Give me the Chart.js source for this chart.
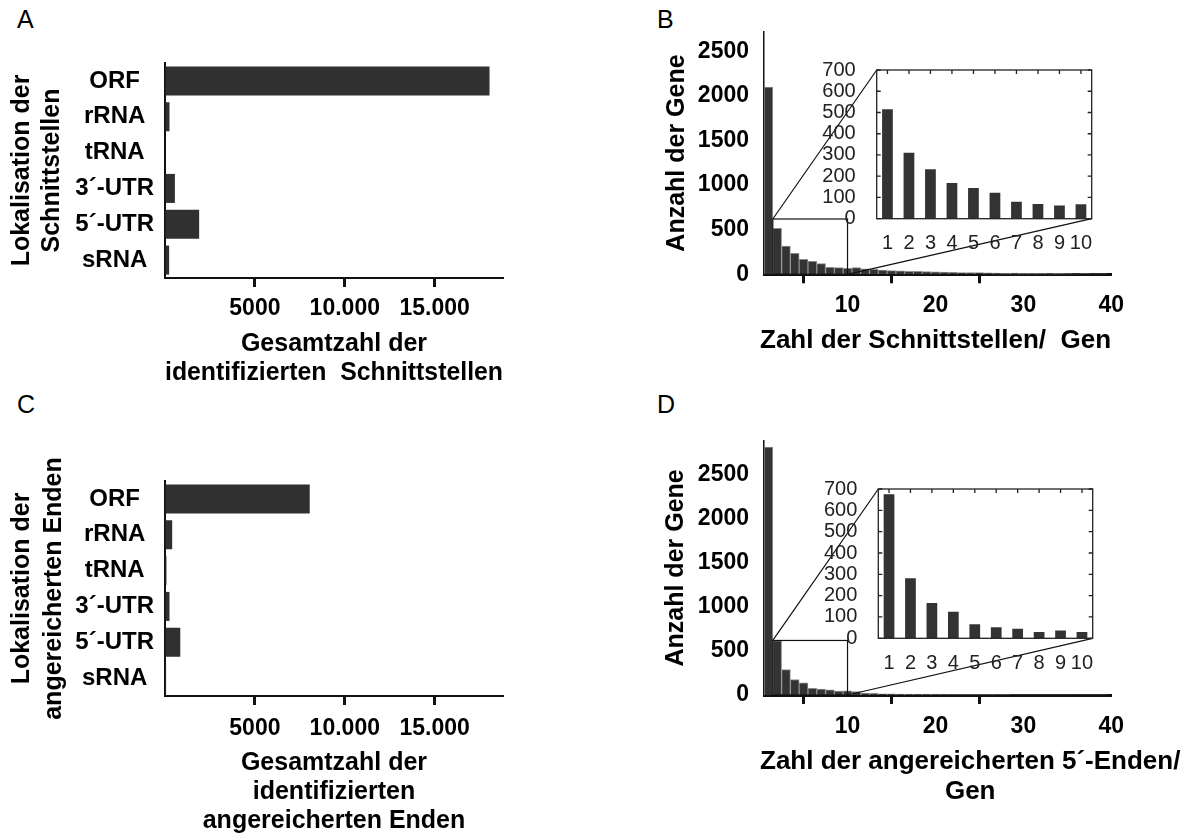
<!DOCTYPE html>
<html>
<head>
<meta charset="utf-8">
<title>Schnittstellen und angereicherte Enden</title>
<script src="https://cdn.jsdelivr.net/npm/chart.js@4.4.1/dist/chart.umd.min.js"></script>
<style>
  body { margin: 0; background: #fff; width: 1186px; height: 839px; position: relative; overflow: hidden; font-family: 'Liberation Sans', Arial, sans-serif; }
  canvas, .tag { position: absolute; }
  .tag { font-size: 25px; line-height: 1; color: #000; }
</style>
</head>
<body>
<div class="tag" style="left:17px;top:7px">A</div>
<div class="tag" style="left:657px;top:7px">B</div>
<div class="tag" style="left:17px;top:392px">C</div>
<div class="tag" style="left:657px;top:392px">D</div>

<canvas id="totalsSites" width="520" height="347" style="left:0;top:40px"></canvas>
<canvas id="totalsEnds" width="520" height="380" style="left:0;top:455px"></canvas>
<canvas id="countsSites" width="586" height="346" style="left:600px;top:10px"></canvas>
<canvas id="countsEnds" width="586" height="387" style="left:600px;top:420px"></canvas>
<canvas id="zoomSites" width="290" height="215" style="left:820px;top:45px"></canvas>
<canvas id="zoomEnds" width="290" height="215" style="left:820px;top:464px"></canvas>

<script>
// where the sites / enriched ends fall (panels A and C)
const regions = ['ORF', 'rRNA', 'tRNA', '3´-UTR', '5´-UTR', 'sRNA'];
const sitesTotal = [18050, 250, 30, 550, 1900, 230];
const endsTotal = [8050, 400, 80, 250, 850, 60];
const totalTicks = [0, 5000, 10000, 15000];

// genes per number of sites / ends (panels B and D)
const perGene = Array.from({ length: 39 }, (_, i) => i + 1);
const genesBySites = [2100, 515, 316, 235, 168, 145, 119, 78, 74, 67,
  75, 60, 55, 48, 42, 40, 34, 32, 30, 28,
  26, 22, 20, 18, 20, 16, 14, 12, 14, 12,
  10, 10, 8, 10, 8, 6, 7, 5, 5];
const genesByEnds = [2820, 620, 290, 176, 138, 75, 67, 60, 45, 48,
  40, 22, 18, 14, 12, 10, 9, 8, 8, 7,
  6, 6, 5, 5, 5, 4, 4, 4, 3, 3,
  3, 3, 2, 2, 2, 2, 2, 2, 2];
const geneTicks = [0, 500, 1000, 1500, 2000, 2500];
const countTicks = [10, 20, 30, 40];

// enlarged first ten classes
const zoomLabels = ['1', '2', '3', '4', '5', '6', '7', '8', '9', '10'];
const zoomSites = [515, 311, 233, 168, 144, 122, 80, 69, 62, 68];
const zoomEnds = [675, 281, 165, 125, 66, 52, 45, 30, 36, 30];
const zoomTicks = [0, 100, 200, 300, 400, 500, 600, 700];
// region of the main plot that the inset enlarges
const zoomFrom = 1.5, zoomTo = 10, zoomTop = 620;

Chart.defaults.font.family = "'Liberation Sans', Arial, Helvetica, sans-serif";
Chart.defaults.color = '#000';

const ink = '#111';
const clear = 'rgba(0,0,0,0)';
const bold = size => ({ size: size, weight: 'bold' });
const fixedWidth = w => s => { s.width = w; };
const fixedHeight = h => s => { s.height = h; };
const useTicks = list => s => { s.ticks = list.map(v => ({ value: v })); };
const deNum = v => v >= 10000 ? String(v).replace(/\B(?=(\d{3})+(?!\d))/g, '.') : String(v);

const base = {
  responsive: false,
  devicePixelRatio: 1,
  animation: false,
  events: [],
  plugins: { legend: { display: false }, tooltip: { enabled: false } }
};

function totalsChart(id, values, yTitle, xTitle, pad, yWidth, xHeight, yTitleTop, yTitleLH, tickPad) {
  return new Chart(document.getElementById(id), {
    type: 'bar',
    data: {
      labels: regions,
      datasets: [{ data: values, backgroundColor: '#303030', barPercentage: 0.9, categoryPercentage: 0.9 }]
    },
    options: Object.assign({}, base, {
      indexAxis: 'y',
      layout: { padding: pad },
      scales: {
        x: {
          type: 'linear', min: 0, max: 18800, offset: false,
          afterBuildTicks: useTicks(totalTicks),
          afterFit: fixedHeight(xHeight),
          border: { color: ink, width: 2 },
          grid: {
            drawOnChartArea: false, tickLength: 9, tickWidth: 3,
            tickColor: c => (c.tick && c.tick.value === 0) ? clear : ink
          },
          ticks: { font: bold(23), padding: tickPad, maxRotation: 0, callback: v => v === 0 ? '' : deNum(v) },
          title: { display: true, text: xTitle, font: { size: 25, weight: 'bold', lineHeight: 1.15 }, padding: 0 }
        },
        y: {
          afterFit: fixedWidth(yWidth),
          border: { color: ink, width: 2 },
          grid: { display: false },
          ticks: { font: bold(24), padding: 3, crossAlign: 'center' },
          title: { display: true, text: yTitle, font: { size: 25, weight: 'bold', lineHeight: yTitleLH }, padding: { top: yTitleTop, bottom: 0 } }
        }
      }
    })
  });
}

// frame with inward ticks round the inset
const insetFrame = {
  id: 'insetFrame',
  afterDraw(chart) {
    const { ctx, chartArea: a, scales: { x, y } } = chart;
    ctx.save();
    ctx.strokeStyle = '#222';
    ctx.lineWidth = 1.3;
    ctx.strokeRect(a.left, a.top, a.right - a.left, a.bottom - a.top);
    ctx.beginPath();
    x.ticks.forEach((t, i) => {
      const px = x.getPixelForTick(i);
      ctx.moveTo(px, a.top); ctx.lineTo(px, a.top + 4);
    });
    y.ticks.forEach((t, i) => {
      const py = y.getPixelForTick(i);
      ctx.moveTo(a.left, py); ctx.lineTo(a.left + 4, py);
      ctx.moveTo(a.right, py); ctx.lineTo(a.right - 4, py);
    });
    ctx.stroke();
    ctx.restore();
  }
};

function zoomChart(id, values, pad, yWidth, xHeight) {
  return new Chart(document.getElementById(id), {
    type: 'bar',
    data: {
      labels: zoomLabels,
      datasets: [{ data: values, backgroundColor: '#333', barPercentage: 0.5, categoryPercentage: 1 }]
    },
    options: Object.assign({}, base, {
      layout: { padding: pad },
      scales: {
        x: {
          afterFit: fixedHeight(xHeight),
          grid: { display: false },
          border: { display: false },
          ticks: { font: { size: 20 }, color: '#222', padding: 5, maxRotation: 0, autoSkip: false }
        },
        y: {
          min: 0, max: 700,
          afterBuildTicks: useTicks(zoomTicks),
          afterFit: fixedWidth(yWidth),
          grid: { display: false },
          border: { display: false },
          ticks: { font: { size: 20 }, color: '#222', padding: 13, autoSkip: false, callback: v => String(v) }
        }
      }
    }),
    plugins: [insetFrame]
  });
}

// box round the enlarged region plus the two lines out to the inset
function zoomLinks(inset) {
  return {
    id: 'zoomLinks',
    afterDraw(chart) {
      const { ctx, scales: { x, y } } = chart;
      const x0 = x.getPixelForValue(zoomFrom), x1 = x.getPixelForValue(zoomTo);
      const y0 = y.getPixelForValue(0), y1 = y.getPixelForValue(zoomTop);
      const me = chart.canvas.getBoundingClientRect();
      const other = inset.canvas.getBoundingClientRect();
      const dx = other.left - me.left, dy = other.top - me.top;
      const a = inset.chartArea;
      ctx.save();
      ctx.strokeStyle = ink;
      ctx.lineWidth = 1.2;
      ctx.strokeRect(x0, y1, x1 - x0, y0 - y1);
      ctx.beginPath();
      ctx.moveTo(x0, y1); ctx.lineTo(a.left + dx, a.top + dy);
      ctx.moveTo(x1, y0); ctx.lineTo(a.right + dx, a.bottom + dy);
      ctx.stroke();
      ctx.restore();
    }
  };
}

// x axis caption: block starts at the axis origin, lines centred inside it
function captionBelow(lines) {
  return {
    id: 'captionBelow',
    afterDraw(chart) {
      const { ctx, scales: { x } } = chart;
      const lh = 30;
      ctx.save();
      ctx.font = "bold 26px 'Liberation Sans', Arial, sans-serif";
      ctx.fillStyle = '#000';
      ctx.textAlign = 'center';
      ctx.textBaseline = 'middle';
      const w = Math.max(...lines.map(l => ctx.measureText(l).width));
      const cx = x.left - 4 + w / 2;
      lines.forEach((l, i) => ctx.fillText(l, cx, x.bottom - lh / 2 - (lines.length - 1 - i) * lh));
      ctx.restore();
    }
  };
}

function countsChart(id, values, yMax, xTitle, pad, yWidth, xHeight, yTitleTop, inset) {
  return new Chart(document.getElementById(id), {
    type: 'bar',
    data: {
      datasets: [{
        data: perGene.map((n, i) => ({ x: n, y: values[i] })),
        backgroundColor: '#333', borderColor: '#8c8c8c', borderWidth: 1,
        barPercentage: 1, categoryPercentage: 1
      }]
    },
    options: Object.assign({}, base, {
      layout: { padding: pad },
      scales: {
        x: {
          type: 'linear', min: 0.5, max: 40, offset: false,
          afterBuildTicks: useTicks(countTicks),
          afterFit: fixedHeight(xHeight),
          border: { color: ink, width: 3 },
          grid: {
            drawOnChartArea: false, tickLength: 9, tickWidth: 3,
            tickColor: c => (c.tick && c.tick.value === 40) ? clear : ink
          },
          ticks: { font: bold(23), padding: 9, maxRotation: 0, callback: v => String(v) }
        },
        y: {
          min: 0, max: yMax,
          afterBuildTicks: useTicks(geneTicks),
          afterFit: fixedWidth(yWidth),
          border: { color: ink, width: 1.5 },
          grid: { display: false },
          ticks: { font: bold(23), padding: 7, autoSkip: false, callback: v => String(v) },
          title: { display: true, text: 'Anzahl der Gene', font: { size: 25, weight: 'bold', lineHeight: 1.2 }, padding: { top: yTitleTop, bottom: 0 } }
        }
      }
    }),
    plugins: [zoomLinks(inset), captionBelow(xTitle)]
  });
}

totalsChart('totalsSites', sitesTotal,
  ['Lokalisation der', 'Schnittstellen'],
  ['Gesamtzahl der', 'identifizierten  Schnittstellen'],
  { top: 23, right: 17, bottom: 0, left: 0 }, 165, 109, 7.5, 1.2, 8);

totalsChart('totalsEnds', endsTotal,
  ['Lokalisation der', 'angereicherten Enden'],
  ['Gesamtzahl der', 'identifizierten', 'angereicherten Enden'],
  { top: 26, right: 17, bottom: 0, left: 0 }, 165, 139, 6.8, 1.26, 10);

const zs = zoomChart('zoomSites', zoomSites, { top: 18.3, right: 18.3, bottom: 0, left: 0 }, 56.7, 41.3);
const ze = zoomChart('zoomEnds', zoomEnds, { top: 18.7, right: 17.3, bottom: 0, left: 0 }, 58.3, 40.7);

countsChart('countsSites', genesBySites, 2720,
  ['Zahl der Schnittstellen/  Gen'],
  { top: 21.7, right: 74.7, bottom: 0, left: 0 }, 164, 81.7, 62, zs);

countsChart('countsEnds', genesByEnds, 2890,
  ['Zahl der angereicherten 5´-Enden/', 'Gen'],
  { top: 17, right: 74.7, bottom: 0, left: 0 }, 164, 112, 61, ze);
</script>
</body>
</html>
